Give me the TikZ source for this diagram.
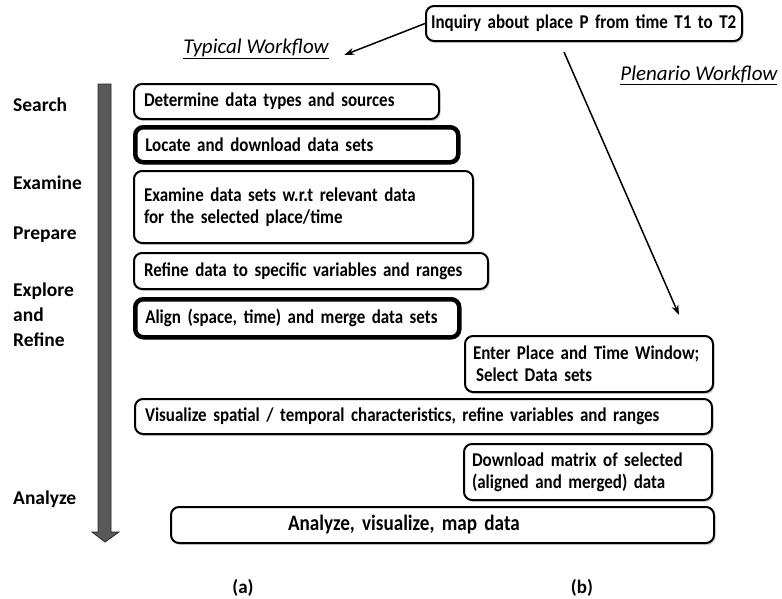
\documentclass[tikz,border=0pt]{standalone}
\usepackage{fontspec}
\setmainfont{Carlito}
\newfontfamily\boxfamily{Carlito}[FakeStretch=0.87, WordSpace=0.7]
\usetikzlibrary{shadows,arrows.meta}

\tikzset{
  flowbox/.style={draw, line width=2pt, rounded corners=8pt, fill=white,
    anchor=north west, align=left, inner xsep=10pt, inner ysep=2pt,
    font=\boxfamily\bfseries\fontsize{19.5}{22}\selectfont,
    execute at begin node={\hyphenpenalty=10000 },
    drop shadow={shadow xshift=1.5pt, shadow yshift=-2pt, opacity=0.35}},
  heavybox/.style={flowbox, line width=4.5pt},
  stage/.style={anchor=west, align=left, inner sep=0pt,
    font=\bfseries\fontsize{19.5}{25}\selectfont},
  wftitle/.style={font=\itshape\fontsize{21}{24}\selectfont},
  caption/.style={font=\bfseries\fontsize{19}{22}\selectfont}
}

\begin{document}
\begin{tikzpicture}[x=1pt,y=-1pt,>={Stealth[length=10pt,width=7pt]}]
  \useasboundingbox (0,0) rectangle (782,598);

  % stages of the typical workflow
  \node[stage] (search) at (13,105) {Search};
  \node[stage] (examinelbl) at (13,183) {Examine};
  \node[stage] (prepare) at (13,235) {Prepare};
  \node[stage] (explore) at (13,315) {Explore\\and\\Refine};
  \node[stage] (analyzelbl) at (13,499) {Analyze};

  % big downward arrow
  \filldraw[fill=black!65, draw=black!85, line width=0.8pt]
    (98,84) -- (111,84) -- (111,532) -- (119,532) -- (105,542)
    -- (92,532) -- (98,532) -- cycle;

  % titles
  \node[wftitle] (typical) at (256,49) {\underline{Typical Workflow}};
  \node[wftitle, anchor=east] (plenario) at (781,75) {\underline{Plenario Workflow}};

  \node[flowbox, inner xsep=5pt, text width=306pt, minimum height=35pt] (inquiry) at (425,5)
    {Inquiry about place P from time T1 to T2};

  % typical workflow boxes
  \node[flowbox, text width=285pt, minimum height=35pt] (determine) at (133,83)
    {Determine data types and sources};
  \node[heavybox, text width=303pt, minimum height=35pt] (locate) at (133,125)
    {Locate and download data sets};
  \node[flowbox, text width=319pt, minimum height=72pt] (examine) at (133,170)
    {Examine data sets w.r.t relevant data\\for the selected place/time};
  \node[flowbox, text width=334pt, minimum height=36pt] (refine) at (133,252)
    {Refine data to specific variables and ranges};
  \node[heavybox, text width=304pt, minimum height=38pt] (align) at (133,297)
    {Align (space, time) and merge data sets};
  \node[flowbox, text width=557pt, minimum height=35pt] (visualize) at (134,398)
    {Visualize spatial / temporal characteristics, refine variables and ranges};
  \node[flowbox, text width=523pt, minimum height=36pt,
    font=\boxfamily\bfseries\fontsize{22}{24}\selectfont] (analyze) at (170,506)
    {\hspace*{107pt}Analyze, visualize, map data};

  % plenario workflow boxes
  \node[flowbox, inner xsep=8pt, text width=232pt, minimum height=56pt] (enter) at (464,335)
    {Enter Place and Time Window;\\\hspace*{3pt}Select Data sets};
  \node[flowbox, inner xsep=8pt, text width=232pt, minimum height=56pt] (download) at (463,443)
    {Download matrix of selected\\(aligned and merged) data};

  % connectors
  \draw[->, line width=1.5pt] (inquiry.west) -- ([xshift=12pt,yshift=-6pt]typical.east);
  \draw[->, line width=1.5pt] ([xshift=-20pt,yshift=-10pt]inquiry.south)
    -- ([xshift=-35pt,yshift=20pt]enter.north east);

  \node[caption] (capa) at (243,588) {(a)};
  \node[caption] (capb) at (582,588) {(b)};
\end{tikzpicture}
\end{document}
